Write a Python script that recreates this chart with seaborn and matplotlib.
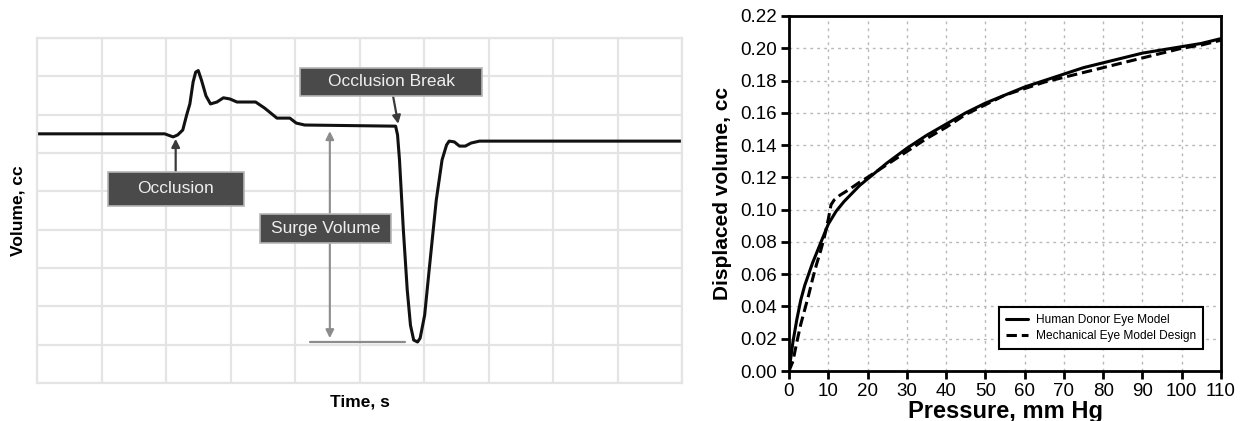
import matplotlib
matplotlib.use("Agg")
import matplotlib.pyplot as plt
from matplotlib.patches import Rectangle
import numpy as np
import pandas as pd
import seaborn as sns

# ---------------- data ----------------
# Left panel: volume trace (arbitrary grid units)
time_s = [0, 1.98, 2.11, 2.18, 2.26, 2.32, 2.37, 2.42, 2.46, 2.50, 2.55, 2.62, 2.69,
          2.79, 2.89, 2.99, 3.10, 3.39, 3.53, 3.72, 3.81, 3.92, 4.02, 4.15, 5.56,
          5.59, 5.62, 5.68, 5.74, 5.79, 5.84, 5.90, 5.94, 6.01, 6.08, 6.19, 6.28,
          6.35, 6.39, 6.47, 6.55, 6.64, 6.73, 6.86, 10.0]
volume_cc = [6.50, 6.50, 6.42, 6.47, 6.60, 6.99, 7.28, 7.85, 8.11, 8.15, 7.90, 7.49, 7.28,
             7.33, 7.44, 7.41, 7.33, 7.33, 7.17, 6.91, 6.91, 6.91, 6.78, 6.73, 6.70,
             6.47, 5.82, 3.99, 2.43, 1.51, 1.12, 1.07, 1.17, 1.77, 2.95, 4.77, 5.82,
             6.21, 6.31, 6.29, 6.18, 6.18, 6.26, 6.31, 6.31]

# Right panel: displaced volume vs pressure
pressure_human = [0, 0.5, 1, 2, 3, 4, 5, 6, 7, 8, 9, 10, 12, 14, 16, 18, 20, 25, 30, 35,
                  40, 45, 50, 55, 60, 65, 70, 75, 80, 85, 90, 95, 100, 105, 110]
volume_human = [0, 0.009, 0.018, 0.032, 0.044, 0.053, 0.060, 0.067, 0.073, 0.079, 0.085,
                0.091, 0.099, 0.105, 0.110, 0.115, 0.119, 0.129, 0.138, 0.146, 0.153,
                0.160, 0.166, 0.171, 0.176, 0.180, 0.184, 0.188, 0.191, 0.194, 0.197,
                0.199, 0.201, 0.203, 0.206]
pressure_mech = [0, 1, 2, 3, 4, 5, 6, 7, 8, 9, 10, 10.7, 11.5, 13, 15, 18, 20, 25, 30, 35,
                 40, 45, 50, 55, 60, 65, 70, 75, 80, 85, 90, 95, 100, 105, 110]
volume_mech = [0, 0.006, 0.018, 0.029, 0.038, 0.047, 0.057, 0.066, 0.074, 0.083, 0.094,
               0.103, 0.106, 0.109, 0.112, 0.117, 0.120, 0.128, 0.136, 0.144, 0.151,
               0.159, 0.165, 0.171, 0.175, 0.179, 0.182, 0.185, 0.188, 0.191, 0.194,
               0.197, 0.200, 0.202, 0.205]

x_ticks = list(range(0, 111, 10))
y_ticks = [0.00, 0.02, 0.04, 0.06, 0.08, 0.10, 0.12, 0.14, 0.16, 0.18, 0.20, 0.22]
legend_labels = ["Human Donor Eye Model", "Mechanical Eye Model Design"]

# ---------------- style ----------------
sns.set_theme(style="white")
plt.rcParams["font.family"] = ["Liberation Sans", "DejaVu Sans"]
plt.rcParams["text.color"] = "black"
plt.rcParams["axes.labelcolor"] = "black"
plt.rcParams["xtick.color"] = "black"
plt.rcParams["ytick.color"] = "black"

fig = plt.figure(figsize=(12.45, 4.21), dpi=100)

# ---------------- left panel ----------------
axL = fig.add_axes([37 / 1245, 1 - 383 / 421, (682 - 37) / 1245, (383 - 38) / 421])
df_left = pd.DataFrame({"t": time_s, "v": volume_cc})
sns.lineplot(data=df_left, x="t", y="v", ax=axL, color="#111111", lw=2.2,
             sort=False, estimator=None)
axL.set_xlim(0, 10)
axL.set_ylim(0, 9)
axL.set_xticks(range(0, 11))
axL.set_yticks(range(0, 10))
axL.tick_params(length=0, labelbottom=False, labelleft=False)
axL.grid(True, color="#e4e4e4", lw=1.6)
axL.set_axisbelow(True)
for s in axL.spines.values():
    s.set_color("#e4e4e4")
    s.set_linewidth(1.6)
axL.set_xlabel("Time, s", fontsize=12.5, fontweight="bold", labelpad=8, color="black")
axL.set_ylabel("Volume, cc", fontsize=12.5, fontweight="bold", labelpad=8, color="black")

box_fc = "#4a4a4a"
box_ec = "#b5b5b5"
txt_c = "#eeeeee"

def label_box(ax, x0, x1, y0, y1, text):
    ax.add_patch(Rectangle((x0, y0), x1 - x0, y1 - y0, facecolor=box_fc,
                           edgecolor=box_ec, lw=1.2, zorder=5))
    ax.text((x0 + x1) / 2, (y0 + y1) / 2, text, ha="center", va="center",
            color=txt_c, fontsize=12.5, zorder=6)

# Occlusion
label_box(axL, 1.10, 3.21, 4.63, 5.50, "Occlusion")
axL.annotate("", xy=(2.15, 6.37), xytext=(2.15, 5.50),
             arrowprops=dict(arrowstyle="-|>", color="#3a3a3a", lw=1.6,
                             mutation_scale=12, shrinkA=0, shrinkB=0), zorder=4)
# Occlusion Break
label_box(axL, 4.08, 6.90, 7.49, 8.22, "Occlusion Break")
axL.annotate("", xy=(5.60, 6.76), xytext=(5.52, 7.49),
             arrowprops=dict(arrowstyle="-|>", color="#3a3a3a", lw=1.6,
                             mutation_scale=12, shrinkA=0, shrinkB=0), zorder=4)
# Surge Volume
axL.annotate("", xy=(4.54, 6.57), xytext=(4.54, 1.17),
             arrowprops=dict(arrowstyle="<|-|>", color="#8c8c8c", lw=1.5,
                             mutation_scale=12, shrinkA=0, shrinkB=0), zorder=3)
axL.plot([4.23, 5.71], [1.07, 1.07], color="#8c8c8c", lw=1.6, zorder=3)
label_box(axL, 3.46, 5.49, 3.65, 4.41, "Surge Volume")

# ---------------- right panel ----------------
axR = fig.add_axes([789 / 1245, 1 - 371 / 421, (1221 - 789) / 1245, (371 - 16) / 421])
df_h = pd.DataFrame({"p": pressure_human, "v": volume_human})
df_m = pd.DataFrame({"p": pressure_mech, "v": volume_mech})
sns.lineplot(data=df_h, x="p", y="v", ax=axR, color="black", lw=2.2,
             sort=False, estimator=None, label=legend_labels[0])
sns.lineplot(data=df_m, x="p", y="v", ax=axR, color="black", lw=2.2,
             linestyle=(0, (3.4, 1.6)), sort=False, estimator=None,
             label=legend_labels[1])
axR.set_xlim(0, 110)
axR.set_ylim(0, 0.22)
axR.set_xticks(x_ticks)
axR.set_yticks(y_ticks)
axR.set_yticklabels([f"{v:.2f}" for v in y_ticks])
axR.grid(True, color="#b8b8b8", lw=1.0, linestyle=(0, (2, 3)))
axR.set_axisbelow(True)
for s in axR.spines.values():
    s.set_color("black")
    s.set_linewidth(2.0)
axR.tick_params(axis="both", which="both", direction="out", length=6, width=2,
                color="black", labelcolor="black", labelsize=13.5, bottom=True,
                left=True, top=False, right=False, pad=2.5)
axR.set_xlabel("Pressure, mm Hg", fontsize=17, fontweight="bold", labelpad=0,
               color="black")
axR.set_ylabel("Displaced volume, cc", fontsize=15, fontweight="bold", labelpad=6,
               color="black")

leg = axR.legend(loc="lower right", bbox_to_anchor=(0.958, 0.062), fontsize=8.6,
                 frameon=True, fancybox=False, edgecolor="black", framealpha=1,
                 handlelength=1.9, borderaxespad=0, borderpad=0.6, labelspacing=0.3,
                 handletextpad=0.6)
leg.get_frame().set_linewidth(1.5)
for t in leg.get_texts():
    t.set_color("black")

fig.savefig("out.png", dpi=100)
